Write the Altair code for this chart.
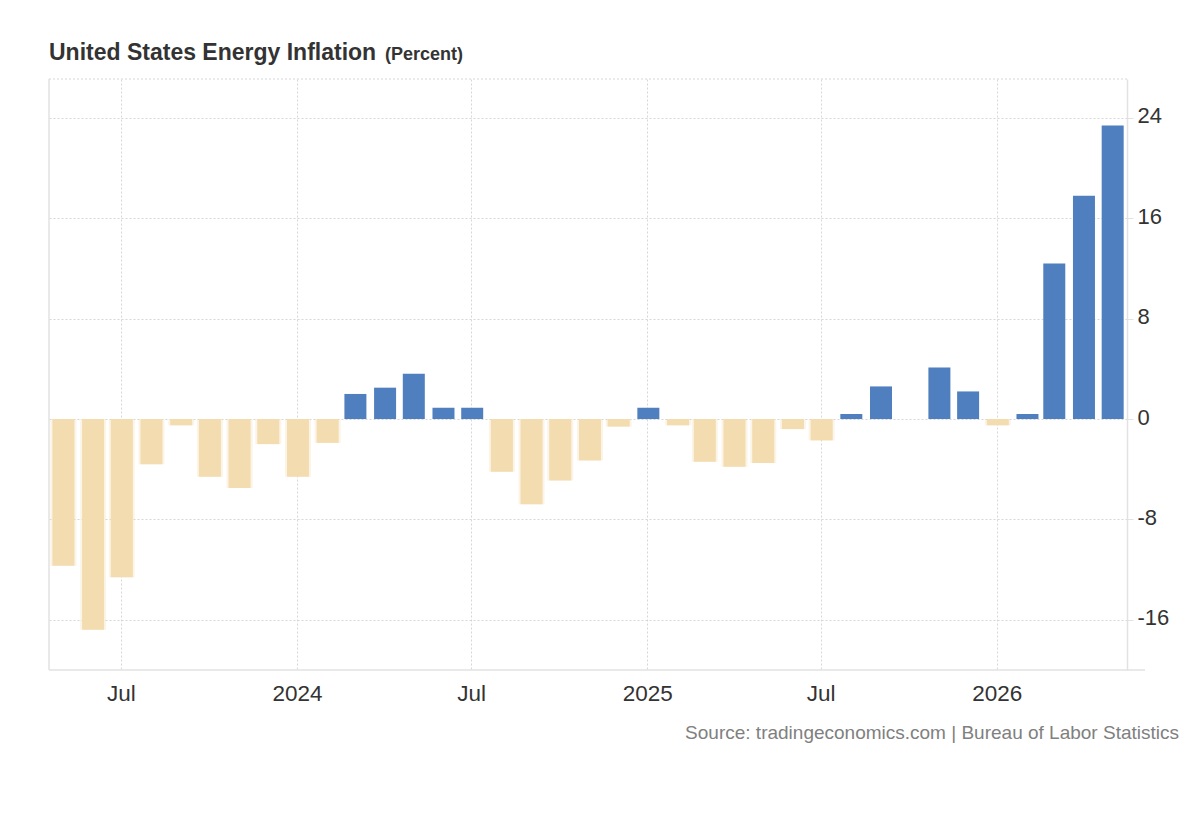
import altair as alt
import pandas as pd

# Monthly year-on-year change in the US energy CPI, percent
months = [
    "2023-05-01", "2023-06-01", "2023-07-01", "2023-08-01", "2023-09-01",
    "2023-10-01", "2023-11-01", "2023-12-01", "2024-01-01", "2024-02-01",
    "2024-03-01", "2024-04-01", "2024-05-01", "2024-06-01", "2024-07-01",
    "2024-08-01", "2024-09-01", "2024-10-01", "2024-11-01", "2024-12-01",
    "2025-01-01", "2025-02-01", "2025-03-01", "2025-04-01", "2025-05-01",
    "2025-06-01", "2025-07-01", "2025-08-01", "2025-09-01",
    "2025-11-01", "2025-12-01", "2026-01-01", "2026-02-01", "2026-03-01",
    "2026-04-01", "2026-05-01",
]
values = [
    -11.7, -16.8, -12.6, -3.6, -0.5,
    -4.6, -5.5, -2.0, -4.6, -1.9,
    2.0, 2.5, 3.6, 0.9, 0.9,
    -4.2, -6.8, -4.9, -3.3, -0.6,
    0.9, -0.5, -3.4, -3.8, -3.5,
    -0.8, -1.7, 0.4, 2.6,
    4.1, 2.2, -0.5, 0.4, 12.4,
    17.8, 23.4,
]

title_main = "United States Energy Inflation"
title_unit = "(Percent)"
source_note = "Source: tradingeconomics.com | Bureau of Labor Statistics"
y_ticks = [-16, -8, 0, 8, 16, 24]

BLUE = "#4f7fbe"
BEIGE = "#f3dcaf"
GRID = "#d6d6d6"
FRAME = "#e2e2e2"
FONT = "Liberation Sans"

W, H = 1078, 591

df = pd.DataFrame({"date": months, "value": values})

x_scale = alt.Scale(
    type="utc",
    domain=[alt.DateTime(year=2023, month=4, date=17, utc=True),
            alt.DateTime(year=2026, month=5, date=17, utc=True)],
    padding=0,
    nice=False,
)
y_scale = alt.Scale(domain=[-20, 27.1], nice=False, zero=False)

x_ticks = [alt.DateTime(year=y, month=m, date=1, utc=True)
           for y, m in [(2023, 7), (2024, 1), (2024, 7), (2025, 1), (2025, 7), (2026, 1)]]

x_axis = alt.Axis(
    values=x_ticks,
    labelExpr="utcmonth(datum.value) == 0 ? utcFormat(datum.value, '%Y') : utcFormat(datum.value, '%b')",
    title=None,
    grid=True, gridColor=GRID, gridDash=[2, 2], gridWidth=1,
    domain=False, ticks=False,
    labelFont=FONT, labelFontSize=22.5, labelColor="#333333",
    labelBaseline="alphabetic", labelPadding=30, labelAlign="center",
)
y_axis = alt.Axis(
    orient="right", values=y_ticks, title=None,
    labelExpr="'' + datum.value",
    grid=True, gridColor=GRID, gridDash=[2, 2], gridWidth=1,
    domain=True, domainColor=FRAME, domainWidth=1.5,
    ticks=True, tickSize=6, tickColor=FRAME,
    labelFont=FONT, labelFontSize=22, labelColor="#333333",
    labelAlign="left", labelBaseline="middle", labelPadding=4, labelOffset=-2,
)

base = alt.Chart(df)

x_enc = alt.X("date:T", scale=x_scale, axis=x_axis)
y_enc = alt.Y("value:Q", scale=y_scale, axis=y_axis)

# soft edge around the falling months
halo = base.transform_filter(alt.datum.value < 0).mark_bar(
    size=26, color=BEIGE, opacity=0.3, xOffset=1
).encode(x=alt.X("date:T", scale=x_scale), y=alt.Y("value:Q", scale=y_scale), y2=alt.datum(0))

bars = base.mark_bar(size=22, xOffset=1).encode(
    x=x_enc,
    y=y_enc,
    y2=alt.datum(0),
    color=alt.condition(alt.datum.value > 0, alt.value(BLUE), alt.value(BEIGE)),
)

one = pd.DataFrame({"k": [0]})

left_edge = alt.Chart(one).mark_rule(color=FRAME, strokeWidth=1.5).encode(
    x=alt.value(0), y=alt.value(0), y2=alt.value(H))
top_edge = alt.Chart(one).mark_rule(color=GRID, strokeDash=[2, 2]).encode(
    x=alt.value(0), x2=alt.value(W), y=alt.value(0))
bottom_edge = alt.Chart(one).mark_rule(color=FRAME, strokeWidth=1.5).encode(
    x=alt.value(0), x2=alt.value(W + 18), y=alt.value(H))

title1 = alt.Chart(one).mark_text(
    text=title_main, font=FONT, fontSize=23, fontWeight="bold", color="#333333",
    align="left", baseline="alphabetic",
).encode(x=alt.value(0), y=alt.value(-19.5))
title2 = alt.Chart(one).mark_text(
    text=title_unit, font=FONT, fontSize=18, fontWeight="bold", color="#333333",
    align="left", baseline="alphabetic",
).encode(x=alt.value(336), y=alt.value(-19.5))
source = alt.Chart(one).mark_text(
    text=source_note, font=FONT, fontSize=19, color="#808080",
    align="right", baseline="alphabetic",
).encode(x=alt.value(1130), y=alt.value(660))

chart = alt.layer(
    halo, bars, left_edge, top_edge, bottom_edge, title1, title2, source
).properties(
    width=W, height=H,
    autosize=alt.AutoSizeParams(type="none"),
    padding={"left": 49, "top": 79, "right": 73, "bottom": 150},
    background="white",
).configure_view(strokeWidth=0)

chart.save("out.html", embed_options={"renderer": "svg", "actions": False})
